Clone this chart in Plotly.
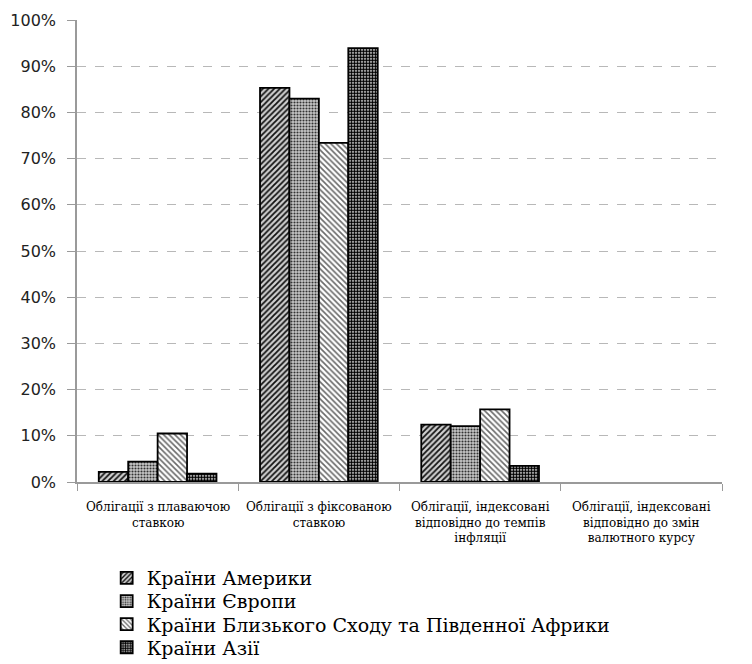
import plotly.graph_objects as go

# Bond types (categories on the x axis)
categories = [
    "Облігації з плаваючою ставкою",
    "Облігації з фіксованою ставкою",
    "Облігації, індексовані відповідно до темпів інфляції",
    "Облігації, індексовані відповідно до змін валютного курсу",
]
# Same names split over lines for the axis labels
category_labels = [
    "Облігації з плаваючою<br>ставкою",
    "Облігації з фіксованою<br>ставкою",
    "Облігації, індексовані<br>відповідно до темпів<br>інфляції",
    "Облігації, індексовані<br>відповідно до змін<br>валютного курсу",
]

# Share of each bond type by region
series_names = [
    "Країни Америки",
    "Країни Європи",
    "Країни Близького Сходу та Південної Африки",
    "Країни Азії",
]
america = [0.022, 0.853, 0.124, None]
europe = [0.044, 0.830, 0.121, None]
mena = [0.105, 0.734, 0.157, None]
asia = [0.018, 0.939, 0.035, None]
values = [america, europe, mena, asia]

y_ticks = [i / 10 for i in range(11)]

SERIF = "DejaVu Serif"

patterns = [
    dict(shape="/", size=4, solidity=0.45, fgcolor="#111111", bgcolor="#d0d0d0"),
    dict(shape=".", size=3, solidity=0.4, fgcolor="#333333", bgcolor="#c8c8c8"),
    dict(shape="\\", size=4, solidity=0.4, fgcolor="#6a6a6a", bgcolor="#ffffff"),
    dict(shape=".", size=3, solidity=0.7, fgcolor="#000000", bgcolor="#ffffff"),
]

legend_ids = ["legend", "legend2", "legend3", "legend4"]
legend_rows_y = [-0.208, -0.258, -0.308, -0.358]

fig = go.Figure()
for name, vals, pat, lid in zip(series_names, values, patterns, legend_ids):
    fig.add_trace(go.Bar(
        x=categories,
        y=vals,
        name=name,
        legend=lid,
        marker=dict(
            color=pat["bgcolor"],
            pattern=dict(shape=pat["shape"], size=pat["size"], solidity=pat["solidity"],
                         fgcolor=pat["fgcolor"], bgcolor=pat["bgcolor"], fillmode="replace"),
            line=dict(color="#000000", width=1.8),
        ),
    ))

# Category labels drawn as text under each group
for cat, label in zip(categories, category_labels):
    fig.add_annotation(
        x=cat, xref="x", y=-0.035, yref="paper", yanchor="top",
        text=label, showarrow=False, align="center",
        font=dict(family=SERIF, size=12, color="#000000"),
    )

legend_style = dict(
    orientation="v", x=0.046, xanchor="left", yanchor="middle",
    font=dict(family=SERIF, size=19, color="#000000"),
    bgcolor="rgba(0,0,0,0)", borderwidth=0,
)
layout_legends = {lid: dict(legend_style, y=ly) for lid, ly in zip(legend_ids, legend_rows_y)}

fig.update_layout(
    width=752, height=664, autosize=False,
    margin=dict(l=77, r=30, t=20, b=182, autoexpand=False),
    paper_bgcolor="white", plot_bgcolor="white",
    barmode="group", bargap=0.27, bargroupgap=0,
    showlegend=True,
    **layout_legends,
)

fig.update_xaxes(
    type="category", range=[-0.5, 3.5], showticklabels=False,
    showline=True, linecolor="#9a9a9a", linewidth=1.5,
    ticks="outside", tickson="boundaries", ticklen=7, tickcolor="#9a9a9a",
    showgrid=False,
)
fig.update_yaxes(
    range=[0, 1], tickvals=y_ticks, tickformat=".0%",
    showline=True, linecolor="#9a9a9a", linewidth=1.5,
    ticks="outside", ticklen=8, tickcolor="#9a9a9a", ticklabelstandoff=8,
    showgrid=True, gridcolor="#b8b8b8", griddash="dash", gridwidth=1,
    zeroline=False,
    tickfont=dict(family="DejaVu Sans", size=16, color="#222222"),
)

fig.write_html("out.html")
